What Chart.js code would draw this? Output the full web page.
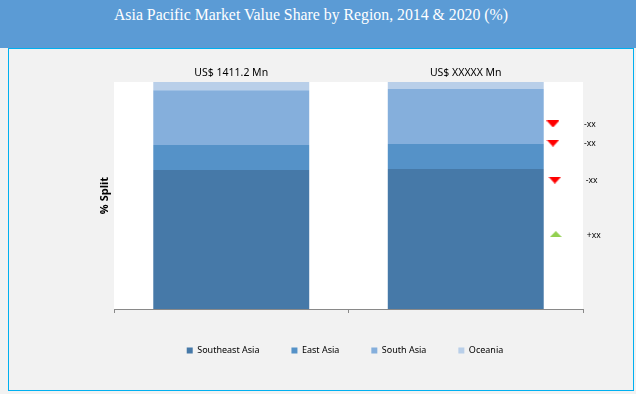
<!DOCTYPE html>
<html>
<head>
<meta charset="utf-8">
<script src="https://cdn.jsdelivr.net/npm/chart.js@4.4.1/dist/chart.umd.min.js"></script>
<style>
  html, body { margin:0; padding:0; background:#F2F2F2; }
  #page { position:relative; width:636px; height:394px; overflow:hidden; background:#F2F2F2; }
  #head { position:absolute; left:0; top:0; width:636px; height:48px; background:#5B9BD5; }
  #head h1 { margin:0; padding:6px 14px 0 0; text-align:center; color:#fff; font:15.8px "Liberation Serif", serif; font-weight:normal; }
  #box { position:absolute; left:8px; top:48px; width:624px; height:341px; border:1px solid #00B0F0; }
  #wrap { position:absolute; left:9px; top:49px; width:623px; height:340px; }
</style>
</head>
<body>
<div id="page">
  <div id="head"><h1>Asia Pacific Market Value Share by Region, 2014 &amp; 2020 (%)</h1></div>
  <div id="box"></div>
  <div id="wrap"><canvas id="c"></canvas></div>
</div>
<script>
// ============ data ============
const years = ['2014', '2020'];
const totals = ['US$ 1411.2 Mn', 'US$ XXXXX Mn'];
const southeastAsia = [61.2, 61.7];
const eastAsia = [11.0, 11.0];
const southAsia = [24.2, 24.2];
const oceania = [3.6, 3.1];
// change markers beside the 2020 bar (y in % of stack)
const markerX = [0.936, 0.936, 0.940, 0.942];
const markerY = [81.5, 73.1, 56.8, 33.0];
const markerUp = [false, false, false, true];
const markerText = ['-xx', '-xx', '-xx', '+xx'];

function tri(up, color, w, h) {
  const cv = document.createElement('canvas');
  cv.width = w; cv.height = h;
  const g = cv.getContext('2d');
  g.fillStyle = color;
  g.beginPath();
  if (up) { g.moveTo(w/2, 0); g.lineTo(w, h); g.lineTo(0, h); }
  else { g.moveTo(0, 0); g.lineTo(w, 0); g.lineTo(w/2, h); }
  g.closePath(); g.fill();
  return cv;
}
const downImg = tri(false, '#FF0000', 13, 7);
const upImg = tri(true, '#92D050', 12, 6);

// white plot area
const plotBg = {
  id: 'plotBg',
  beforeDraw(chart) {
    const a = chart.chartArea, ctx = chart.ctx;
    ctx.save();
    ctx.fillStyle = '#fff';
    ctx.fillRect(a.left, a.top, a.right - a.left, a.bottom - a.top);
    ctx.restore();
  }
};

const labelsPlugin = {
  id: 'labelsPlugin',
  afterDatasetsDraw(chart) {
    const ctx = chart.ctx;
    ctx.save();
    ctx.fillStyle = '#000';
    ctx.textAlign = 'center';
    ctx.textBaseline = 'middle';
    ctx.font = '10.5px "Noto Sans", sans-serif';
    const bars = chart.getDatasetMeta(0).data;
    bars.forEach((b, i) => ctx.fillText(totals[i], b.x, chart.chartArea.top - 9));
    ctx.font = '8.5px "Noto Sans", sans-serif';
    ctx.textAlign = 'left';
    const pts = chart.getDatasetMeta(4).data;
    pts.forEach((p, i) => ctx.fillText(markerText[i], p.x + 31, p.y + 1));
    ctx.restore();
  }
};

new Chart(document.getElementById('c'), {
  data: {
    labels: years,
    datasets: [
      {type:'bar', label:'Southeast Asia', data:southeastAsia, backgroundColor:'#4679A8'},
      {type:'bar', label:'East Asia', data:eastAsia, backgroundColor:'#5592C8'},
      {type:'bar', label:'South Asia', data:southAsia, backgroundColor:'#85AFDC'},
      {type:'bar', label:'Oceania', data:oceania, backgroundColor:'#B9CFE9'},
      {type:'scatter', label:'change', xAxisID:'x2', data:markerX.map((x, i) => ({x, y:markerY[i]})),
       pointStyle:markerUp.map(u => u ? upImg : downImg), pointRadius:6}
    ]
  },
  options: {
    responsive:true, maintainAspectRatio:false, animation:false,
    datasets:{bar:{grouped:false, categoryPercentage:1, barPercentage:0.665}},
    layout:{padding:{top:33, right:34, left:83, bottom:24}},
    plugins:{
      legend:{position:'bottom', labels:{boxWidth:6, boxHeight:6, padding:32, color:'#000',
        font:{family:'"Noto Sans", sans-serif', size:9},
        filter:item => item.datasetIndex < 4}},
      tooltip:{enabled:false}
    },
    scales:{
      x:{stacked:true, grid:{drawOnChartArea:false, tickLength:4, color:'#898989'},
         border:{color:'#898989'},
         ticks:{color:'#000', padding:4, font:{family:'"Noto Sans", sans-serif', size:9}},
         afterFit:s => { s.height = 5; }},
      x2:{type:'linear', min:0, max:1, display:false},
      y:{stacked:true, min:0, max:100, grid:{display:false}, border:{display:false},
         ticks:{display:false},
         title:{display:true, text:'% Split', color:'#000', padding:{top:6, bottom:4},
           font:{family:'"Open Sans", sans-serif', size:11, weight:'bold'}},
         afterFit:s => { s.width = 22; }},
      // empty spacer on the right so the legend centres under the plot
      yR:{type:'linear', position:'right', grid:{display:false}, border:{display:false},
          ticks:{display:false}, afterFit:s => { s.width = 15; }}
    }
  },
  plugins:[plotBg, labelsPlugin]
});
</script>
</body>
</html>
